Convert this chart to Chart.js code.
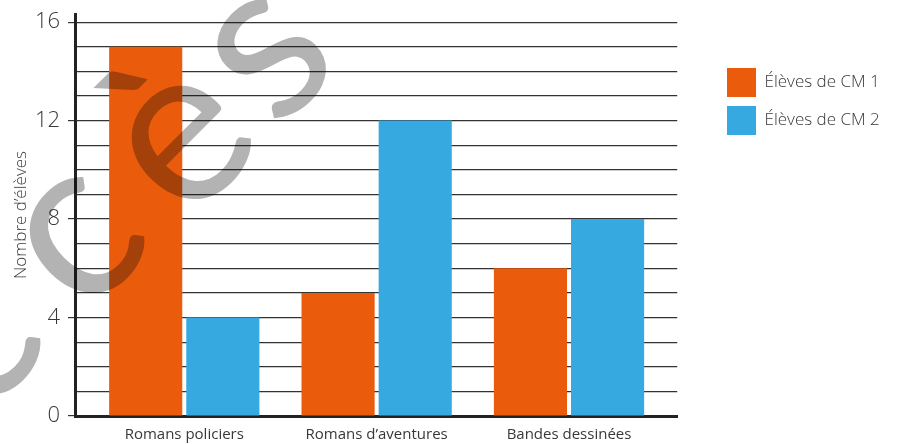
<!DOCTYPE html>
<html lang="fr">
<head>
  <meta charset="UTF-8">
  <title>Lectures préférées</title>
  <script src="https://cdn.jsdelivr.net/npm/chart.js"></script>
  <style>
    html, body { margin: 0; padding: 0; background: #fff; }
    #wrap { width: 897px; height: 444px; position: relative; }
  </style>
</head>
<body>
  <div id="wrap"><canvas id="chart"></canvas></div>
  <script>
    // Données
    const categories = ['Romans policiers', 'Romans d\u2019aventures', 'Bandes dessinées'];
    const cm1 = [15, 5, 6];
    const cm2 = [4, 12, 8];
    const yTicks = [0, 4, 8, 12, 16];

    const FONT = '"Open Sans"';
    const TEXT = '#383838';

    // Filigrane "Accès" dessiné par-dessus (mode multiply)
    const watermark = {
      id: 'watermark',
      afterLayout(chart) {
        // décaler la légende à droite / vers le bas
        const l = chart.legend;
        const dx = 718 - l.left, dy = 59 - l.top;
        l.left += dx; l.right += dx; l.top += dy; l.bottom += dy;
      },
      afterDraw(chart) {
        const ctx = chart.ctx;
        ctx.save();
        ctx.globalCompositeOperation = 'multiply';
        ctx.fillStyle = '#b3b3b3';
        ctx.font = '400 225px Lato';
        ctx.textAlign = 'center';
        ctx.textBaseline = 'alphabetic';
        const letters = [['A', -128, 445], ['c', -22, 344], ['c', 82, 242], ['è', 188, 145], ['s', 272, 58]];
        letters.forEach(([ch, x, y]) => {
          ctx.save();
          ctx.translate(x, y);
          ctx.rotate(-Math.PI / 4);
          ctx.fillText(ch, 0, 56);
          ctx.restore();
        });
        ctx.restore();
      }
    };

    new Chart(document.getElementById('chart'), {
      type: 'bar',
      data: {
        datasets: [
          {
            label: 'Élèves de CM 1',
            data: cm1.map((v, i) => ({ x: i, y: v })),
            backgroundColor: '#EA5B0C',
            categoryPercentage: 0.802,
            barPercentage: 0.948
          },
          {
            label: 'Élèves de CM 2',
            data: cm2.map((v, i) => ({ x: i, y: v })),
            backgroundColor: '#36A9E1',
            categoryPercentage: 0.802,
            barPercentage: 0.948
          }
        ]
      },
      options: {
        responsive: true,
        maintainAspectRatio: false,
        animation: false,
        layout: { padding: { top: 14, right: 48, left: 0, bottom: 0 } },
        scales: {
          x: {
            type: 'linear',
            min: -0.568,
            max: 2.5625,
            offset: false,
            z: 1,
            afterBuildTicks: s => { s.ticks = categories.map((c, i) => ({ value: i })); },
            afterFit: s => { s.height = 28; },
            grid: { display: false, drawTicks: false },
            border: { display: true, color: '#222', width: 3 },
            ticks: {
              autoSkip: false,
              maxRotation: 0,
              padding: 10,
              color: TEXT,
              font: { family: FONT, size: 15 },
              callback: v => categories[v] ?? ''
            }
          },
          y: {
            min: 0,
            max: 16.33,
            z: 1,
            afterBuildTicks: s => {
              s.ticks = [];
              for (let v = 0; v <= 16; v++) s.ticks.push({ value: v });
            },
            afterFit: s => { s.width = 75; s.paddingTop = 0; s.paddingBottom = 0; },
            grid: {
              color: '#333',
              lineWidth: 1.2,
              tickLength: 7,
              tickColor: c => yTicks.includes(c.tick.value) ? '#333' : 'rgba(0,0,0,0)'
            },
            border: { display: true, color: '#222', width: 3 },
            ticks: {
              autoSkip: false,
              padding: 8,
              color: TEXT,
              font: { family: FONT, size: 22, weight: 300 },
              callback: v => yTicks.includes(v) ? String(v) : ''
            },
            title: {
              display: true,
              text: 'Nombre d\u2019élèves',
              color: TEXT,
              font: { family: FONT, size: 17, weight: 300 },
              padding: { top: 11, bottom: 0 }
            }
          }
        },
        plugins: {
          legend: {
            position: 'right',
            align: 'start',
            labels: {
              boxWidth: 29,
              boxHeight: 29,
              padding: 9,
              color: TEXT,
              font: { family: FONT, size: 17, weight: 300 }
            }
          },
          tooltip: { enabled: false }
        }
      },
      plugins: [watermark]
    });
  </script>
</body>
</html>
